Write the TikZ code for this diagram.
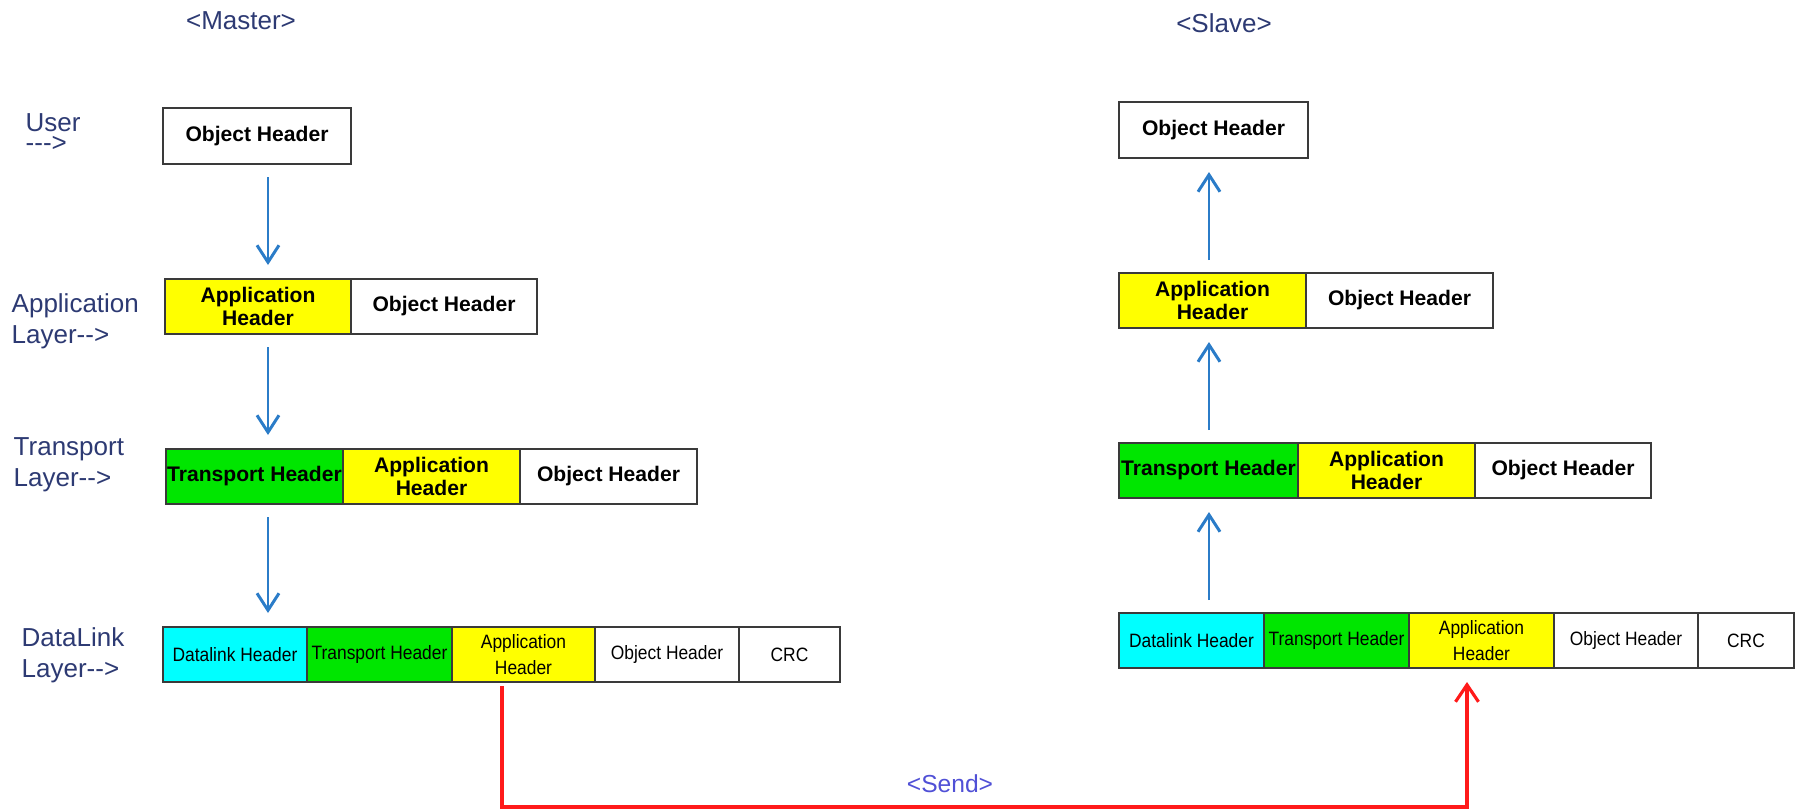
\documentclass[tikz,border=0pt]{standalone}
\usepackage{fontspec}
\setmainfont{Liberation Sans}[Ligatures=TeXOff]
\newfontfamily\narrowfont{Liberation Sans}[FakeStretch=0.9,Ligatures=TeXOff]
\usepackage{xcolor}
\usetikzlibrary{positioning,arrows.meta}

\definecolor{layerblue}{HTML}{2D3A73}
\definecolor{sendblue}{HTML}{5050D6}
\definecolor{flowblue}{HTML}{2B7CC8}
\definecolor{sendred}{HTML}{FF1A1A}
\definecolor{framegray}{HTML}{3A3A3A}
\definecolor{dlcyan}{HTML}{00FFFF}
\definecolor{trgreen}{HTML}{00E600}
\definecolor{appyellow}{HTML}{FFFF00}

\tikzset{
  cell/.style={draw=framegray, line width=0.6pt, minimum height=0.55cm,
    inner sep=0pt, outer sep=0pt, align=center, text=black,
    font=\fontsize{6}{6.6}\selectfont\bfseries},
  dlcell/.style={cell, font=\narrowfont\fontsize{5.5}{7.4}\selectfont},
  layer/.style={anchor=north west, inner sep=0pt, align=left, text=layerblue,
    font=\fontsize{7.4}{8.8}\selectfont},
  title/.style={inner sep=0pt, text=layerblue, font=\fontsize{7.4}{8.8}\selectfont},
  flow/.style={draw=flowblue, line width=0.85pt,
    -{Straight Barb[length=0.17cm,width=0.22cm]},
    shorten <=0.13cm, shorten >=0.14cm},
  send/.style={draw=sendred, line width=0.9pt,
    -{Straight Barb[length=0.17cm,width=0.23cm]},
    shorten <=0.04cm, shorten >=0.14cm},
}

\begin{document}
\begin{tikzpicture}
        \useasboundingbox (0,0) rectangle (18,8.1);

        %% Titles
        \node [title] (master) at (2.41,7.89) {<Master>};
        \node [title] (slave) at (12.24,7.87) {<Slave>};

        %% Layer labels
        \node [layer] (userLbl) at (0.25,6.97) {User\\[-3.2pt]--->};
        \node [layer] (appLbl) at (0.11,5.17) {Application\\Layer-->};
        \node [layer] (trLbl) at (0.13,3.73) {Transport\\Layer-->};
        \node [layer] (dlLbl) at (0.21,1.83) {DataLink\\Layer-->};

        %% Master side
        \node [cell, minimum width=1.88cm, minimum height=0.56cm] (mObj) at (2.57,6.74) {Object Header};

        \node [cell, fill=appyellow, minimum width=1.86cm, anchor=west] (mAppA) at (1.65,5.035) {Application\\Header};
        \node [cell, minimum width=1.86cm, right=0pt of mAppA] (mAppO) {Object Header};

        \node [cell, fill=trgreen, minimum width=1.77cm, anchor=west] (mTrT) at (1.66,3.335) {Transport Header};
        \node [cell, fill=appyellow, minimum width=1.77cm, right=0pt of mTrT] (mTrA) {Application\\Header};
        \node [cell, minimum width=1.77cm, right=0pt of mTrA] (mTrO) {Object Header};

        \node [dlcell, fill=dlcyan, minimum width=1.44cm, anchor=west] (mDlD) at (1.63,1.555) {Datalink Header};
        \node [dlcell, fill=trgreen, minimum width=1.45cm, right=0pt of mDlD] (mDlT) {Transport Header};
        \node [dlcell, fill=appyellow, minimum width=1.43cm, right=0pt of mDlT] (mDlA) {Application\\Header};
        \node [dlcell, minimum width=1.44cm, right=0pt of mDlA] (mDlO) {Object Header};
        \node [dlcell, minimum width=1.01cm, right=0pt of mDlO] (mDlC) {CRC};

        %% Slave side
        \node [cell, minimum width=1.89cm, minimum height=0.56cm] (sObj) at (12.135,6.80) {Object Header};

        \node [cell, fill=appyellow, minimum width=1.87cm, anchor=west] (sAppA) at (11.19,5.095) {Application\\Header};
        \node [cell, minimum width=1.87cm, right=0pt of sAppA] (sAppO) {Object Header};

        \node [cell, fill=trgreen, minimum width=1.79cm, anchor=west] (sTrT) at (11.19,3.395) {Transport Header};
        \node [cell, fill=appyellow, minimum width=1.77cm, right=0pt of sTrT] (sTrA) {Application\\Header};
        \node [cell, minimum width=1.76cm, right=0pt of sTrA] (sTrO) {Object Header};

        \node [dlcell, fill=dlcyan, minimum width=1.45cm, anchor=west] (sDlD) at (11.19,1.695) {Datalink Header};
        \node [dlcell, fill=trgreen, minimum width=1.45cm, right=0pt of sDlD] (sDlT) {Transport Header};
        \node [dlcell, fill=appyellow, minimum width=1.45cm, right=0pt of sDlT] (sDlA) {Application\\Header};
        \node [dlcell, minimum width=1.44cm, right=0pt of sDlA] (sDlO) {Object Header};
        \node [dlcell, minimum width=0.96cm, right=0pt of sDlO] (sDlC) {CRC};

        %% Arrows down (master) and up (slave)
        \coordinate (mAxis) at (2.68,0);
        \coordinate (sAxis) at (12.09,0);
        \draw [flow] (mAxis |- mObj.south) -- (mAxis |- mAppA.north);
        \draw [flow] (mAxis |- mAppA.south) -- (mAxis |- mTrT.north);
        \draw [flow] (mAxis |- mTrT.south) -- (mAxis |- mDlD.north);

        \draw [flow] (sAxis |- sAppA.north) -- (sAxis |- sObj.south);
        \draw [flow] (sAxis |- sTrT.north) -- (sAxis |- sAppA.south);
        \draw [flow] (sAxis |- sDlD.north) -- (sAxis |- sTrT.south);

        %% Send line
        \coordinate (sendL) at (5.02,0.03);
        \coordinate (sendR) at (14.67,0.03);
        \draw [send] (sendL |- mDlA.south) -- (sendL) -- (sendR) -- (sendR |- sDlA.south);
        \node [text=sendblue, inner sep=0pt, font=\fontsize{7}{8}\selectfont] (sendTxt) at (9.50,0.26) {<Send>};
    \end{tikzpicture}
\end{document}
